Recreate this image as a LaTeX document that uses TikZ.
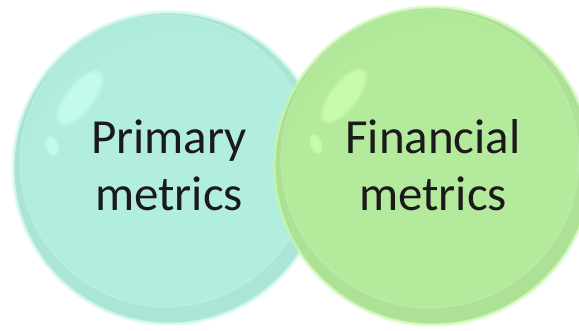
\documentclass[tikz,border=0pt]{standalone}
\usepackage{fontspec}
\newfontfamily\labelfont{Carlito}
\definecolor{tealC}{HTML}{B2EEDF}
\definecolor{tealE}{HTML}{9BD8C7}
\definecolor{tealHi}{HTML}{C2FBEE}
\definecolor{tealRim}{HTML}{C6F5EA}
\definecolor{greenC}{HTML}{B3EA9C}
\definecolor{greenE}{HTML}{A0D888}
\definecolor{greenHi}{HTML}{C8FAAC}
\definecolor{greenRim}{HTML}{C6F7AA}
\definecolor{ink}{HTML}{1A1A1A}
\pgfdeclareradialshading{tealbubble}{\pgfpoint{4bp}{-8bp}}%
  {color(0bp)=(tealC); color(26bp)=(tealC); color(54bp)=(tealE); color(100bp)=(tealE)}
\pgfdeclareradialshading{greenbubble}{\pgfpoint{4bp}{-8bp}}%
  {color(0bp)=(greenC); color(26bp)=(greenC); color(54bp)=(greenE); color(100bp)=(greenE)}
\tikzset{
  caption/.style={font=\labelfont\fontsize{49}{57}\selectfont, text=ink,
    align=center, inner sep=0pt, anchor=base},
}
% a glass bubble: halo, shaded body, faint bottom band, rim and gloss spots
\newcommand\glassbubble[6]{%
  % #1 centre x, #2 centre y, #3 radius, #4 shading, #5 rim colour, #6 gloss colour
  \fill[#5, opacity=0.55] (#1,#2) circle (#3+2.5);
  \shade[shading=#4] (#1,#2) circle (#3);
  \begin{scope}
    \clip (#1,#2) circle (#3);
    \fill[black, opacity=0.035, even odd rule] (#1,#2) circle (#3)
      (#1-3,#2+7) circle (#3-9);
    \draw[white, opacity=0.15, line width=1.5] (#1-3,#2+7) circle (#3-9);
  \end{scope}
  \draw[#5, line width=1.2] (#1,#2) circle (#3);
  \fill[#6, opacity=0.5] (#1-89,#2+70) ellipse [x radius=34, y radius=14.5, rotate=52];
  \fill[#6] (#1-89,#2+70) ellipse [x radius=31, y radius=12, rotate=52];
  \fill[#6, opacity=0.5] (#1-117,#2+22) ellipse [x radius=6.5, y radius=10.5, rotate=15];
  \fill[#6] (#1-117,#2+22) ellipse [x radius=5, y radius=9, rotate=15];
}
\begin{document}
\begin{tikzpicture}[x=1pt, y=1pt]
  \useasboundingbox[fill=white] (0,0) rectangle (579,331);
  \glassbubble{169}{163}{155}{tealbubble}{tealRim}{tealHi}
  \glassbubble{433}{165}{158}{greenbubble}{greenRim}{greenHi}
  % the base anchor of a two-line node sits on its last line
  \node[caption] (primary) at (169,120) {Primary\\metrics};
  \node[caption] (financial) at (433,120) {Financial\\metrics};
\end{tikzpicture}
\end{document}
